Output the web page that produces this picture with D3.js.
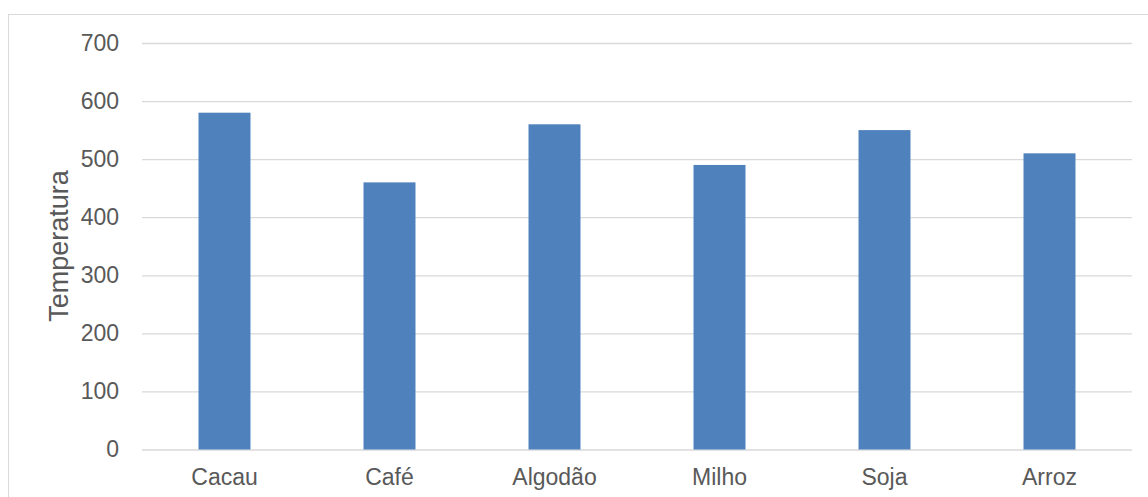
<!DOCTYPE html>
<html lang="pt">
<head>
<meta charset="utf-8">
<title>Temperatura por cultura</title>
<script src="https://d3js.org/d3.v7.min.js"></script>
<style>
  body { margin: 0; background: #fff; }
  svg text { font-family: "Liberation Sans", Arial, sans-serif; fill: #595959; }
</style>
</head>
<body>
<svg id="chart" width="1148" height="497"></svg>
<script>
// data
var culturas = ["Cacau", "Café", "Algodão", "Milho", "Soja", "Arroz"];
var temperaturas = [580, 460, 560, 490, 550, 510];
var yTicks = [0, 100, 200, 300, 400, 500, 600, 700];

var svg = d3.select("#chart");

// outer frame of the chart
svg.append("rect")
  .attr("x", 8.5).attr("y", 14.5)
  .attr("width", 1150).attr("height", 500)
  .attr("fill", "none")
  .attr("stroke", "#d9d9d9");

var margin = { top: 43, left: 142, right: 16, bottom: 47.5 },
    width = 1148 - margin.left - margin.right,
    height = 497 - margin.top - margin.bottom;

var g = svg.append("g")
  .attr("transform", "translate(" + margin.left + "," + margin.top + ")");

var x = d3.scaleBand()
  .domain(culturas)
  .range([0, width])
  .paddingInner(0.685)
  .paddingOuter(0.3425);

var y = d3.scaleLinear()
  .domain([0, 700])
  .range([height, 0]);

// gridlines
g.append("g")
  .call(d3.axisLeft(y).tickValues(yTicks).tickSize(-width).tickFormat(""))
  .call(function (a) {
    a.select(".domain").remove();
    a.selectAll("line").attr("stroke", "#d9d9d9").attr("stroke-width", 1.3);
  });

// bars
g.selectAll(".bar")
  .data(culturas)
  .enter()
  .append("rect")
  .attr("class", "bar")
  .attr("x", function (d) { return x(d); })
  .attr("width", x.bandwidth())
  .attr("y", function (d, i) { return y(temperaturas[i]); })
  .attr("height", function (d, i) { return height - y(temperaturas[i]); })
  .attr("fill", "#4f81bd");

// y axis labels
g.append("g")
  .call(d3.axisLeft(y).tickValues(yTicks).tickSize(0).tickPadding(23))
  .call(function (a) {
    a.select(".domain").remove();
    a.selectAll("text")
      .style("font-size", "23px")
      .attr("font-family", null);
  });

// x axis labels
g.append("g")
  .attr("transform", "translate(0," + height + ")")
  .call(d3.axisBottom(x).tickSize(0).tickPadding(19))
  .call(function (a) {
    a.select(".domain").remove();
    a.selectAll("text")
      .style("font-size", "23px")
      .attr("font-family", null);
  });

// y axis title
svg.append("text")
  .attr("transform", "translate(68,246) rotate(-90)")
  .attr("text-anchor", "middle")
  .style("font-size", "27px")
  .text("Temperatura");
</script>
</body>
</html>
